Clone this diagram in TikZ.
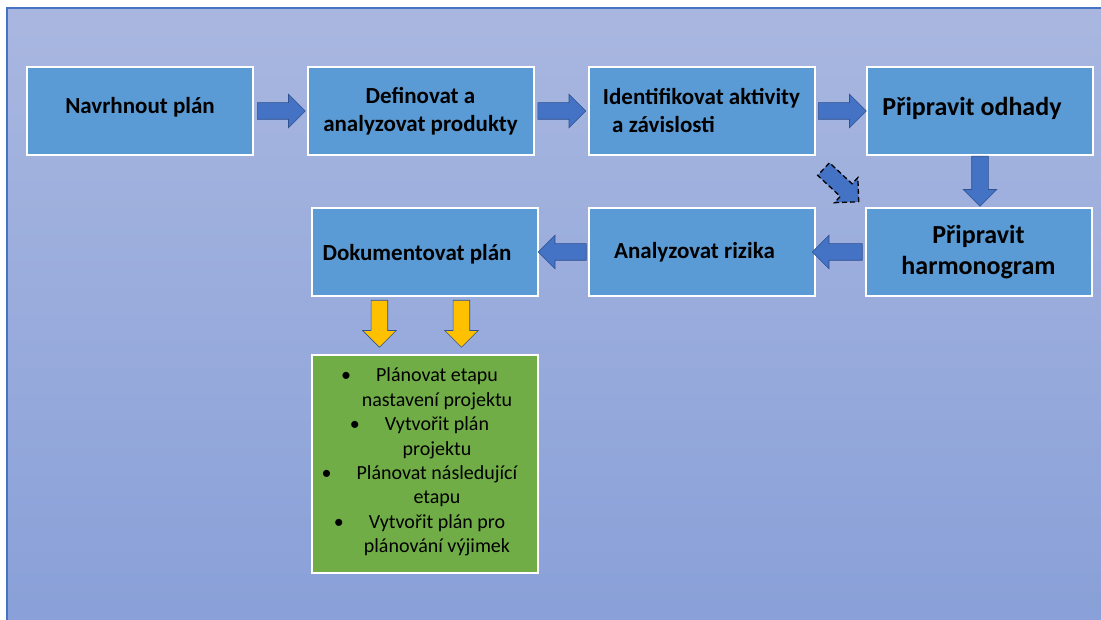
\documentclass[tikz,border=0pt]{standalone}
\usepackage{fontspec}
\setmainfont{Carlito}
\usetikzlibrary{shapes.arrows,calc}

\definecolor{bgtop}{HTML}{A9B7E0}
\definecolor{bgbot}{HTML}{89A0D8}
\definecolor{frame}{HTML}{4472C4}
\definecolor{boxblue}{HTML}{5B9BD5}
\definecolor{arrowblue}{HTML}{4472C4}
\definecolor{arrowline}{HTML}{2F528F}
\definecolor{arrowyellow}{HTML}{FFC000}
\definecolor{boxgreen}{HTML}{70AD47}

% shift a label vertically without changing its reported size
\newcommand\liftlabel[2]{\raisebox{#1}[\height][\depth]{#2}}

\tikzset{
  stepbox/.style={draw=white, line width=2pt, fill=boxblue, minimum width=226pt,
    minimum height=88pt, inner sep=0pt, align=center, text=black,
    font=\bfseries\fontsize{23}{28}\selectfont},
  bigtext/.style={font=\bfseries\fontsize{26}{31}\selectfont},
  blockarrow/.style={single arrow, anchor=tail, minimum height=48pt, minimum width=33pt,
    single arrow head extend=8.5pt, single arrow tip angle=90, inner sep=0pt,
    inner ysep=8pt, fill=arrowblue, draw=arrowline, line width=0.6pt},
  yellowarrow/.style={blockarrow, minimum height=47pt, fill=arrowyellow},
  dasharrow/.style={blockarrow, anchor=center, draw=black, dashed, line width=1.3pt,
    dash pattern=on 5pt off 3pt}
}

\begin{document}
\begin{tikzpicture}[x=1pt, y=-1pt]
  \useasboundingbox (0,0) rectangle (1101,620);
  % backdrop with its frame on the top and left edges
  \shade[top color=bgtop, bottom color=bgbot] (7,8) rectangle (1101,620);
  \draw[frame, line width=1.2pt] (7,620) -- (7,8) -- (1101,8);

  % process steps
  \node[stepbox] (b1) at (140,111) {\liftlabel{4pt}{Navrhnout plán}};
  \node[stepbox] (b2) at (420.5,111) {Definovat a\\analyzovat produkty};
  \node[stepbox] (b3) at (701.5,111) {Identifikovat aktivity\\a závislosti\hspace*{76pt}};
  \node[stepbox, bigtext] (b4) at (980,111) {\liftlabel{3pt}{Připravit odhady}\hspace*{16pt}};
  \node[stepbox, bigtext] (b5) at (978.5,252) {Připravit\\harmonogram};
  \node[stepbox] (b6) at (701.5,252) {Analyzovat rizika\hspace*{14pt}};
  \node[stepbox] (b7) at (425,252) {\liftlabel{-2pt}{Dokumentovat plán}\hspace*{16pt}};

  % outputs of the documentation step
  \node[stepbox, fill=boxgreen, minimum height=218pt] (out) at (425,464) {};
  \node[align=center, inner sep=0pt, font=\fontsize{20}{24.4}\selectfont] (list) at (437,462)
    {\llap{\textbullet\hspace{25pt}}Plánovat etapu\\
     nastavení projektu\\
     \llap{\textbullet\hspace{25pt}}Vytvořit plán\\
     projektu\\
     \llap{\textbullet\hspace{25pt}}Plánovat následující\\
     etapu\\
     \llap{\textbullet\hspace{25pt}}Vytvořit plán pro\\
     plánování výjimek};

  % flow arrows between the steps
  \node[blockarrow] (a12) at ($(b1.east)+(3,0)$) {};
  \node[blockarrow] (a23) at ($(b2.east)+(3,0)$) {};
  \node[blockarrow] (a34) at ($(b3.east)+(2.5,0)$) {};
  \node[blockarrow, rotate=-90, minimum height=50pt] (a45) at (b4.south) {};
  \node[blockarrow, rotate=180, minimum height=50pt] (a56) at ($(b5.west)+(-2,0)$) {};
  \node[blockarrow, rotate=180, minimum height=48pt] (a67) at ($(b6.west)+(-1,0)$) {};
  \node[dasharrow, rotate=-43, minimum height=48pt] (a35) at ($(b3.south east)!0.5!(b5.north west)+(-2,1)$) {};

  % hand-over to the output list
  \node[yellowarrow, rotate=-90] (y1) at ($(b7.south west)!0.3!(b7.south east)+(0,3)$) {};
  \node[yellowarrow, rotate=-90] (y2) at ($(b7.south west)!0.66!(b7.south east)+(0,3)$) {};
\end{tikzpicture}
\end{document}
